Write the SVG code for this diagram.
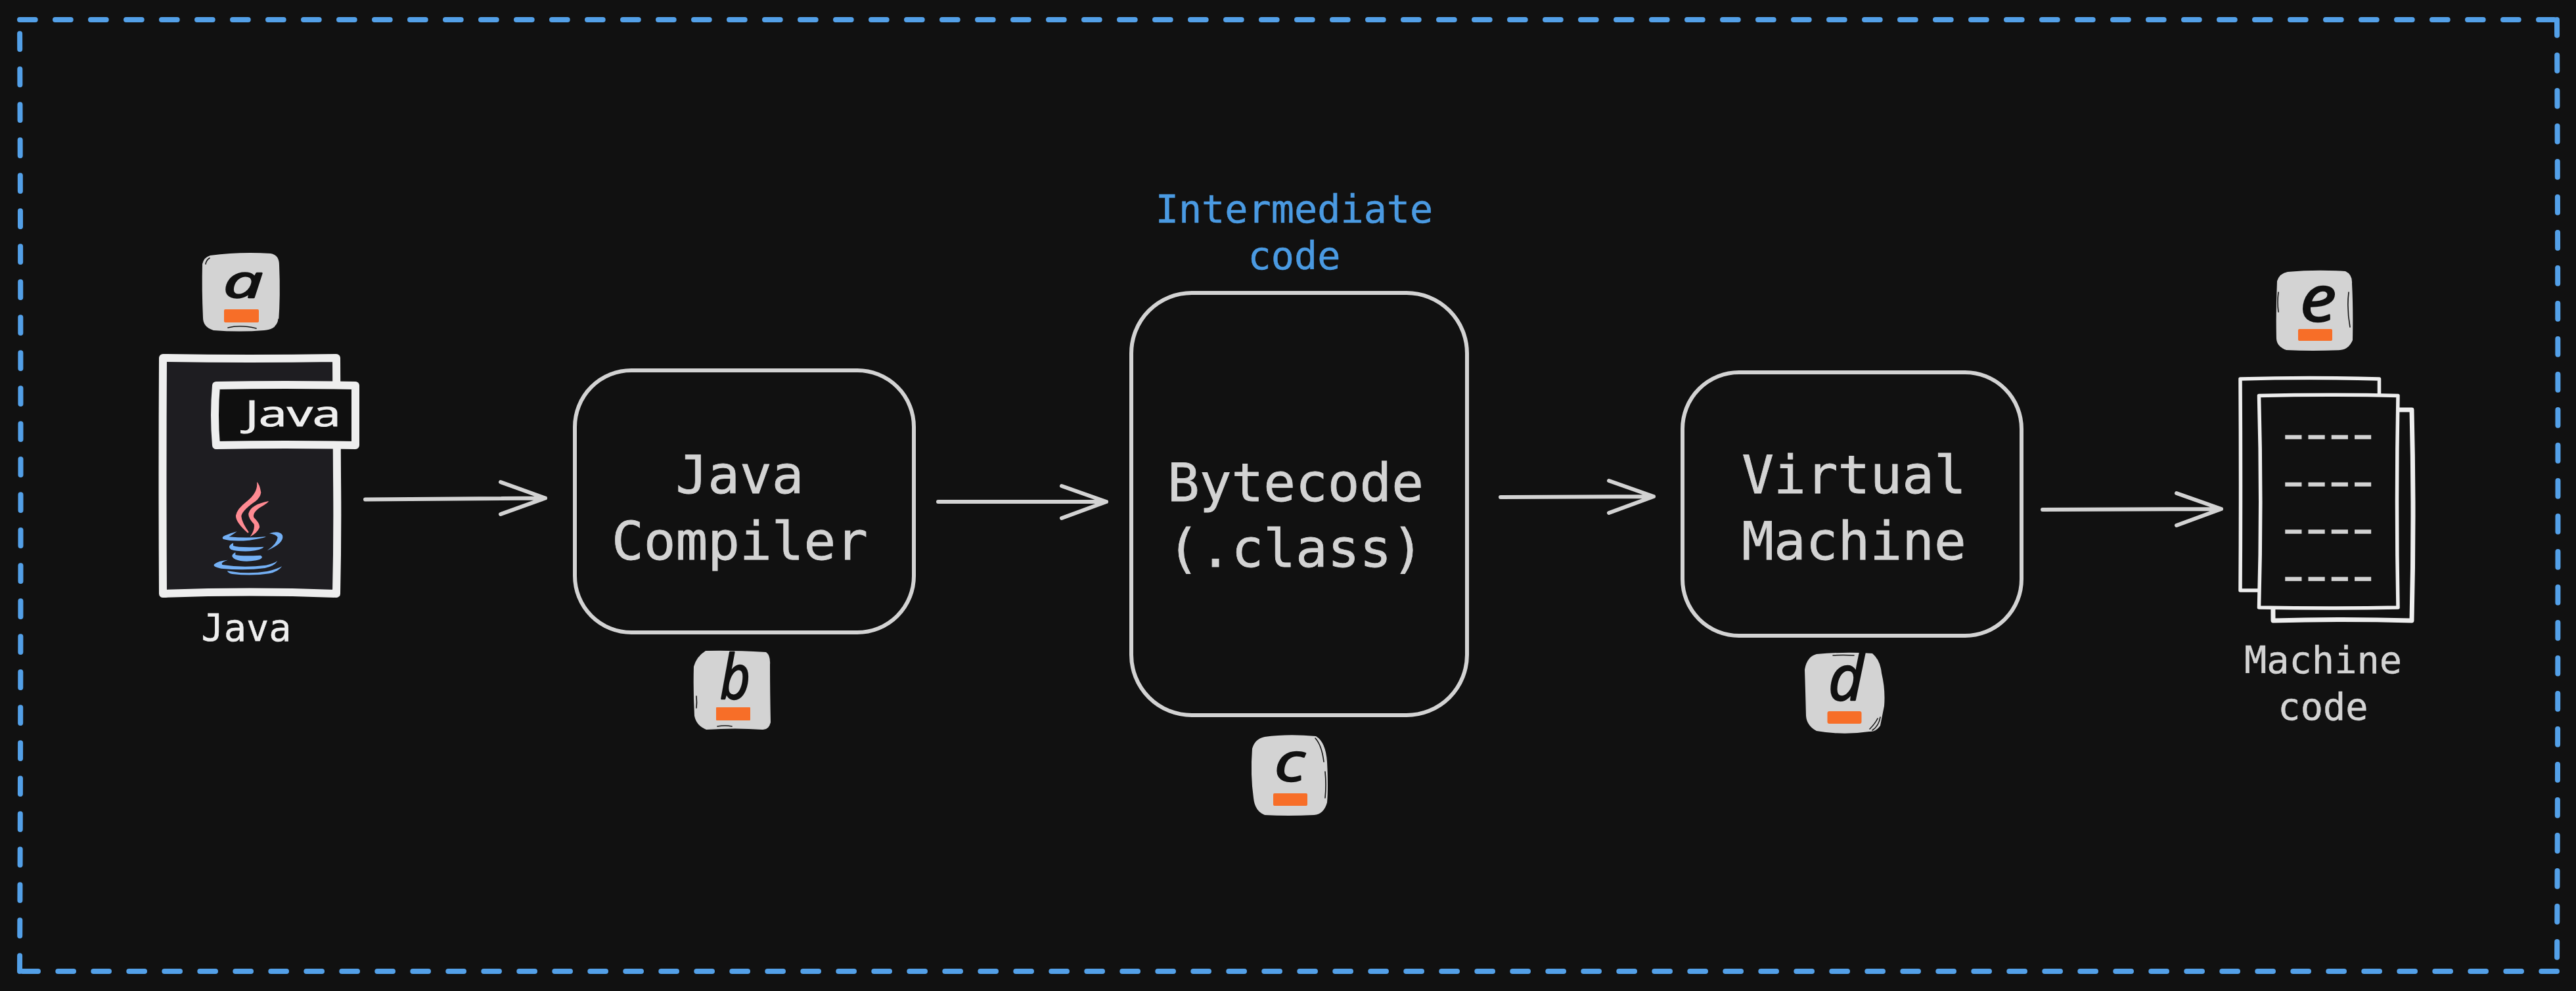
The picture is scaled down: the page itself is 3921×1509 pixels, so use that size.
<svg xmlns="http://www.w3.org/2000/svg" width="3921" height="1509" viewBox="0 0 3921 1509">
<style>
.frame{fill:none;stroke:#53a0e8;stroke-width:8;stroke-linecap:round;stroke-dasharray:23.7 30.3}
.conn{fill:none;stroke:#d3d3d3;stroke-width:6;stroke-linecap:round;stroke-linejoin:round}
.box{fill:#111;stroke:#d3d3d3;stroke-width:6}
.mono{font-family:"DejaVu Sans Mono","Liberation Mono",monospace;text-anchor:middle}
.big{font-size:81px;fill:#d3d3d3;stroke:#d3d3d3;stroke-width:.8}
.small{font-size:57px;fill:#d3d3d3;stroke:#d3d3d3;stroke-width:.5}
.blue{fill:#4a9ae2;stroke:#4a9ae2;stroke-width:.5;font-size:58.500px}
.badge{fill:#d3d3d3}
.hair{fill:none;stroke:#111;stroke-width:1.6;stroke-linecap:round}
.bar{fill:#f76e28}
.hand{font-family:"Open Sans",sans-serif;font-style:italic;fill:#111;stroke:#111;stroke-width:2.5;stroke-linejoin:round}
.doc{fill:#111;stroke:#eee;stroke-width:5.5;stroke-linejoin:round}
.dash{font-family:"DejaVu Sans Mono",monospace;font-size:60px;letter-spacing:-12.6px;fill:#d3d3d3;stroke:#d3d3d3;stroke-width:1.5}
</style>
<rect width="3921" height="1509" fill="#111"/>
<g id="frame">
<path class="frame" d="M30 30L3892 30"/>
<path class="frame" d="M3892 30Q3895 755 3892 1479"/>
<path class="frame" d="M3892 1479L30 1479"/>
<path class="frame" d="M30 1479Q33 755 30 30"/>
</g>
<g id="connectors">
<path class="conn" d="M556 760.5L830 758.500M762 734L830 758.500L762 783"/>
<path class="conn" d="M1428 764L1684 764M1616 740L1684 764L1616 789"/>
<path class="conn" d="M2284 757L2517 756M2449 732L2517 756L2449 781"/>
<path class="conn" d="M3109 776L3381 775M3313 751L3381 775L3313 800"/>
</g>
<g id="node-java">
<path d="M248 545Q380 547 512 545L513 725Q514 815 512 904Q380 899 248 904Q247 725 248 545Z" fill="#1e1d21" stroke="#eee" stroke-width="12" stroke-linejoin="round"/>
<path d="M329 587Q435 585 541 587L541 678Q435 676 329 678Q325 632 329 587Z" fill="#0f0f0f" stroke="#eee" stroke-width="12" stroke-linejoin="round"/>
<text x="373" y="649" font-family="Open Sans" font-size="54" fill="#eee" stroke="#eee" stroke-width="1" textLength="146" lengthAdjust="spacingAndGlyphs">Java</text>
<g transform="translate(290 700) scale(.3333)">
<path fill="#ff8a92" d="M303 101Q316 112 322 150Q318 178 285 198Q235 235 232 258Q234 285 266 331L262 335Q205 285 207 255Q212 225 255 192Q310 150 303 101ZM357 189Q355 197 315 220Q280 245 290 265Q318 292 315 310Q305 335 272 352Q295 320 290 295Q262 265 265 245Q275 205 357 189Z"/>
<path fill="#74b0f5" d="M212 328Q190 345 175 352Q260 360 345 351Q338 358 270 368Q190 375 150 363Q140 355 155 347Q185 335 212 328ZM360 337Q405 322 420 345Q430 380 350 415Q395 385 398 355Q392 342 360 337ZM195 380L195 393Q220 403 335 398Q325 412 270 418Q210 420 185 410Q165 395 195 380ZM205 423L205 435Q235 442 320 437Q340 450 300 460Q240 470 205 455Q175 440 205 423ZM170 458Q135 470 145 480Q240 495 345 482Q380 475 397 462Q385 485 340 495Q250 508 140 497Q100 490 108 478Q125 462 170 458ZM168 508Q260 525 350 510Q395 500 418 487Q400 512 360 520Q280 532 190 522Q170 518 168 508Z"/>
</g>
<text class="mono small" x="375" y="976" style="fill:#eee;stroke:#eee">Java</text>
</g>
<g id="badge-a">
<path class="badge" d="M320 389Q365 383 412 386Q425 388 425 404Q427 450 424 490Q418 502 402 503Q365 506 325 503Q309 498 309 484Q307 440 308 402Q310 392 320 389Z"/>
<path class="hair" d="M347 499Q366 494 390 500M313 402Q314 396 319 393M419 497Q424 492 424 486"/>
<text class="hand" x="340" y="453" font-size="70" textLength="60" lengthAdjust="spacingAndGlyphs">a</text>
<rect class="bar" x="341" y="471" width="53" height="20" rx="2"/>
</g>
<g id="node-compiler">
<rect class="box" x="875" y="564" width="516" height="399" rx="86"/>
<text class="mono big" x="1126" y="751">Java</text>
<text class="mono big" x="1126" y="852">Compiler</text>
</g>
<g id="badge-b">
<path class="badge" d="M1074 991Q1115 990 1166 993Q1173 998 1172 1012Q1172 1050 1173 1100Q1170 1112 1160 1111Q1120 1108 1075 1111Q1060 1105 1057 1090Q1055 1050 1056 1015Q1060 1000 1074 991Z"/>
<path class="hair" d="M1092 1106Q1104 1104 1114 1106M1060 1060Q1061 1070 1060 1078"/>
<text class="hand" x="1096" y="1064" font-size="93" textLength="46" lengthAdjust="spacingAndGlyphs">b</text>
<rect class="bar" x="1090" y="1077" width="52" height="20" rx="1"/>
</g>
<g id="node-bytecode">
<rect class="box" x="1722" y="446" width="511" height="643" rx="92"/>
<text class="mono blue" x="1970" y="339">Intermediate</text>
<text class="mono blue" x="1970" y="410">code</text>
<text class="mono big" x="1972" y="763">Bytecode</text>
<text class="mono big" x="1972" y="863">(.class)</text>
</g>
<g id="badge-c">
<path class="badge" d="M1925 1122Q1960 1117 2003 1121Q2018 1130 2020 1160Q2022 1200 2020 1222Q2015 1240 2000 1241Q1960 1243 1925 1241Q1910 1235 1908 1215Q1903 1180 1906 1140Q1910 1125 1925 1122Z"/>
<path class="hair" d="M2002 1124Q2012 1135 2015 1160M2017 1175Q2019 1195 2017 1215"/>
<text class="hand" x="1940" y="1189" font-size="80" textLength="46" lengthAdjust="spacingAndGlyphs">c</text>
<rect class="bar" x="1938" y="1208" width="52" height="19" rx="2"/>
</g>
<g id="node-vm">
<rect class="box" x="2561" y="567" width="516" height="401" rx="86"/>
<text class="mono big" x="2822" y="751">Virtual</text>
<text class="mono big" x="2822" y="852">Machine</text>
</g>
<g id="badge-d">
<path class="badge" d="M2765 996Q2810 992 2850 995Q2862 1005 2864 1025Q2870 1050 2868 1075Q2864 1095 2862 1105Q2855 1115 2845 1114Q2805 1120 2765 1113Q2750 1105 2749 1090Q2748 1050 2747 1020Q2750 1000 2765 996Z"/>
<path class="hair" d="M2850 1112Q2860 1105 2862 1092M2846 1110Q2854 1102 2858 1094M2790 998Q2805 997 2822 998"/>
<text class="hand" x="2783" y="1066" font-size="95" textLength="54" lengthAdjust="spacingAndGlyphs">d</text>
<rect class="bar" x="2781.500" y="1083" width="52" height="19" rx="3"/>
</g>
<g id="node-machine-code">
<path class="doc" d="M3410 577Q3515 574 3621.500 577L3621.500 899L3410 899Q3411 740 3410 577Z"/>
<path class="doc" style="stroke-width:7" d="M3460 624L3671 624Q3675 785 3671 945Q3565 942 3460 945Q3459 785 3460 624Z"/>
<path class="doc" d="M3438.500 602.500Q3545 600 3650 602.500Q3647 765 3650 925Q3545 927 3438.500 925Q3443 765 3438.500 602.500Z"/>
<text class="dash" transform="translate(3463.700 682.400) scale(1.5 1)">----</text>
<text class="dash" transform="translate(3463.700 754) scale(1.5 1)">----</text>
<text class="dash" transform="translate(3463.700 826.400) scale(1.5 1)">----</text>
<text class="dash" transform="translate(3463.700 898.400) scale(1.5 1)">----</text>
<text class="mono small" x="3536" y="1025">Machine</text>
<text class="mono small" x="3536" y="1096">code</text>
</g>
<g id="badge-e">
<path class="badge" d="M3482 414Q3525 410 3570 413Q3581 418 3580 432Q3582 470 3581 518Q3575 532 3562 533Q3520 535 3480 533Q3466 528 3465 516Q3464 475 3466 428Q3470 416 3482 414Z"/>
<path class="hair" d="M3468 445Q3466 460 3468 475M3575 445Q3572 470 3577 498"/>
<text class="hand" x="3501" y="489" font-size="97" textLength="55" lengthAdjust="spacingAndGlyphs">e</text>
<rect class="bar" x="3498" y="501" width="52" height="18" rx="2"/>
</g>
</svg>
